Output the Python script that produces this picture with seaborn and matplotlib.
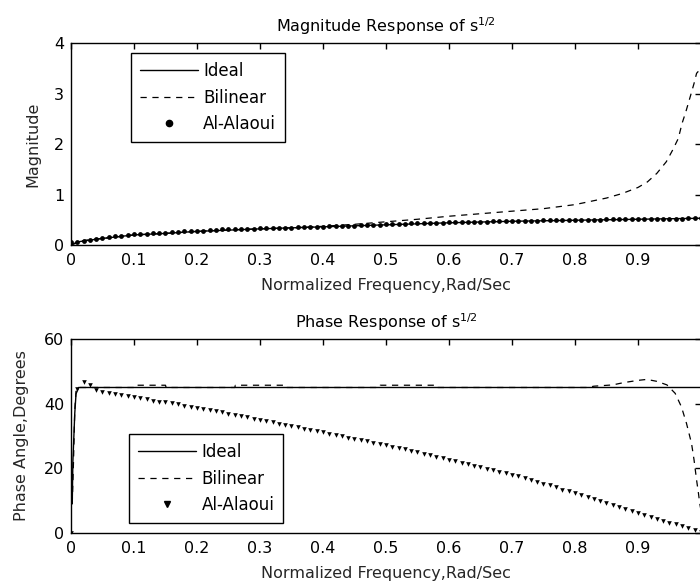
import numpy as np
import pandas as pd
import matplotlib
matplotlib.use("Agg")
import matplotlib.pyplot as plt
from matplotlib.lines import Line2D
import seaborn as sns

# normalized frequency grid of the Al-Alaoui samples
freq = np.linspace(0, 1, 101)

# Magnitude response
ideal_mag_freq = [0.0, 0.01, 0.02, 0.05, 0.10, 0.15, 0.20, 0.30, 0.40, 0.50, 0.60, 0.70, 0.80, 0.90, 1.0]
ideal_mag = [0.0, 0.06, 0.08, 0.13, 0.20, 0.23, 0.27, 0.32, 0.36, 0.40, 0.44, 0.47, 0.49, 0.51, 0.53]

bilin_mag_freq = [0.0, 0.02, 0.05, 0.10, 0.15, 0.20, 0.25, 0.30, 0.35, 0.40, 0.45, 0.50, 0.55,
                  0.60, 0.65, 0.70, 0.75, 0.80, 0.85, 0.875, 0.90, 0.915, 0.93, 0.945, 0.955,
                  0.964, 0.97, 0.976, 0.983, 0.989, 0.993, 0.998, 1.0]
bilin_mag = [0.0, 0.09, 0.13, 0.20, 0.23, 0.27, 0.30, 0.32, 0.34, 0.37, 0.41, 0.46, 0.51,
             0.57, 0.62, 0.67, 0.72, 0.80, 0.93, 1.02, 1.14, 1.25, 1.42, 1.65, 1.88,
             2.11, 2.41, 2.64, 2.94, 3.20, 3.40, 3.47, 3.48]

alaoui_mag = [0.05, 0.06, 0.08, 0.10, 0.11, 0.13, 0.15, 0.17, 0.18, 0.20,
              0.21, 0.21, 0.22, 0.23, 0.23, 0.24, 0.25, 0.26, 0.27, 0.27,
              0.28, 0.28, 0.29, 0.30, 0.31, 0.31, 0.32, 0.32, 0.32, 0.32,
              0.33, 0.33, 0.33, 0.33, 0.34, 0.34, 0.35, 0.35, 0.36, 0.36,
              0.36, 0.37, 0.37, 0.38, 0.38, 0.38, 0.39, 0.39, 0.40, 0.40,
              0.41, 0.41, 0.42, 0.42, 0.43, 0.43, 0.43, 0.44, 0.44, 0.44,
              0.45, 0.45, 0.45, 0.46, 0.46, 0.46, 0.46, 0.47, 0.47, 0.47,
              0.47, 0.48, 0.48, 0.48, 0.48, 0.49, 0.49, 0.49, 0.49, 0.49,
              0.50, 0.50, 0.50, 0.50, 0.50, 0.51, 0.51, 0.51, 0.51, 0.51,
              0.51, 0.52, 0.52, 0.52, 0.52, 0.52, 0.52, 0.52, 0.53, 0.53,
              0.53]

# Phase response in degrees
ideal_ph_freq = [0.002, 0.003, 0.006, 0.008, 0.012, 0.5, 1.0]
ideal_ph = [9, 22, 37, 43, 45, 45, 45]

bilin_ph_freq = [0.002, 0.004, 0.006, 0.008, 0.012, 0.10, 0.101, 0.15, 0.151, 0.26, 0.261,
                 0.34, 0.341, 0.49, 0.491, 0.58, 0.581, 0.82, 0.83, 0.86, 0.877, 0.90, 0.914,
                 0.93, 0.946, 0.959, 0.969, 0.977, 0.985, 0.989, 0.993, 0.996, 0.998, 1.0]
bilin_ph = [9, 22, 38, 44, 45, 45, 45.7, 45.7, 45, 45, 45.7,
            45.7, 45, 45, 45.7, 45.7, 45, 45, 45.4, 45.8, 46.5, 47.2, 47.5,
            46.9, 45.8, 43.2, 39.0, 33.9, 27.7, 22.6, 16.4, 12.3, 9.2, 7.0]

alaoui_ph = [0.0, 44.5, 46.8, 45.8, 44.2, 43.6, 43.2, 42.9, 42.6, 42.3,
             42.0, 41.6, 41.3, 40.9, 40.6, 40.4, 40.1, 39.8, 39.4, 39.0,
             38.7, 38.3, 38.0, 37.6, 37.3, 36.9, 36.6, 36.2, 35.8, 35.4,
             35.0, 34.6, 34.2, 33.8, 33.4, 33.0, 32.7, 32.3, 31.9, 31.5,
             31.1, 30.7, 30.3, 29.9, 29.5, 29.1, 28.7, 28.3, 27.9, 27.5,
             27.1, 26.7, 26.3, 25.9, 25.4, 25.0, 24.5, 24.1, 23.6, 23.1,
             22.7, 22.2, 21.7, 21.2, 20.7, 20.3, 19.8, 19.4, 18.9, 18.5,
             18.0, 17.5, 17.0, 16.4, 15.9, 15.3, 14.7, 14.1, 13.4, 12.9,
             12.3, 11.8, 11.2, 10.6, 9.9, 9.3, 8.6, 7.9, 7.3, 6.7,
             6.2, 5.5, 4.9, 4.3, 3.8, 3.2, 2.7, 2.1, 1.5, 1.0,
             0.4]

labels = ["Ideal", "Bilinear", "Al-Alaoui"]
xticks = [0, 0.1, 0.2, 0.3, 0.4, 0.5, 0.6, 0.7, 0.8, 0.9]
xticklabels = ["0", "0.1", "0.2", "0.3", "0.4", "0.5", "0.6", "0.7", "0.8", "0.9"]

sns.set_style("white")
plt.rcParams["font.family"] = ["DejaVu Sans"]
plt.rcParams["font.size"] = 11.5
plt.rcParams["xtick.direction"] = "in"
plt.rcParams["ytick.direction"] = "in"
plt.rcParams["xtick.top"] = True
plt.rcParams["ytick.right"] = True
plt.rcParams["xtick.major.size"] = 4
plt.rcParams["ytick.major.size"] = 4
plt.rcParams["xtick.major.width"] = 1
plt.rcParams["ytick.major.width"] = 1
plt.rcParams["xtick.major.pad"] = 6
plt.rcParams["ytick.major.pad"] = 5
plt.rcParams["axes.edgecolor"] = "black"
plt.rcParams["axes.linewidth"] = 1.0
plt.rcParams["text.color"] = "black"
plt.rcParams["xtick.color"] = "black"
plt.rcParams["ytick.color"] = "black"

DASH = (0, (5, 4.5))
FS = 11.5


def drawPanel(ax, title, ylabel, ylabelpad, f_i, y_i, f_b, y_b, y_a, marker, msize, ylim, yticks, legend_anchor):
    sns.lineplot(x=f_i, y=y_i, ax=ax, color="black", linewidth=1.0, estimator=None, sort=False)
    sns.lineplot(x=f_b, y=y_b, ax=ax, color="black", linewidth=0.9, linestyle=DASH,
                 estimator=None, sort=False)
    sns.scatterplot(x=freq, y=y_a, ax=ax, color="black", marker=marker, s=msize,
                    linewidth=0, zorder=5)

    ax.set_xlim(0, 1)
    ax.set_ylim(*ylim)
    ax.set_xticks(xticks + [1.0])
    ax.set_xticklabels(xticklabels + [""])
    ax.set_yticks(yticks)
    ax.tick_params(labelsize=FS)
    ax.set_title(title, fontsize=FS, pad=8)
    ax.set_xlabel("Normalized Frequency,Rad/Sec", fontsize=FS, labelpad=7)
    ax.set_ylabel(ylabel, fontsize=FS, labelpad=ylabelpad)
    for s in ax.spines.values():
        s.set_visible(True)

    handles = [
        Line2D([], [], color="black", linewidth=1.0),
        Line2D([], [], color="black", linewidth=0.9, linestyle=DASH),
        Line2D([], [], color="black", marker=marker, linestyle="none", markersize=4 if marker == "v" else 4.5),
    ]
    leg = ax.legend(handles, labels, loc="upper left", bbox_to_anchor=legend_anchor,
                    borderaxespad=0, fancybox=False, framealpha=1, edgecolor="black",
                    handlelength=3.5, handletextpad=0.3, labelspacing=0.5, borderpad=0.55,
                    numpoints=1, fontsize=12)
    leg.get_frame().set_linewidth(1.0)


fig = plt.figure(figsize=(7.0, 5.87), dpi=100)
ax1 = fig.add_axes([0.1014, 0.5826, 0.9, 0.3441])
ax2 = fig.add_axes([0.1014, 0.0920, 0.9, 0.3305])

drawPanel(ax1, r"Magnitude Response of s$\mathregular{^{1/2}}$", "Magnitude", 10,
          ideal_mag_freq, ideal_mag, bilin_mag_freq, bilin_mag, alaoui_mag,
          "o", 12, (0, 4), [0, 1, 2, 3, 4], (0.095, 0.95))
drawPanel(ax2, r"Phase Response of s$\mathregular{^{1/2}}$", "Phase Angle,Degrees", 11,
          ideal_ph_freq, ideal_ph, bilin_ph_freq, bilin_ph, alaoui_ph,
          "v", 11, (0, 60), [0, 20, 40, 60], (0.092, 0.51))

fig.savefig("out.png", dpi=100)
